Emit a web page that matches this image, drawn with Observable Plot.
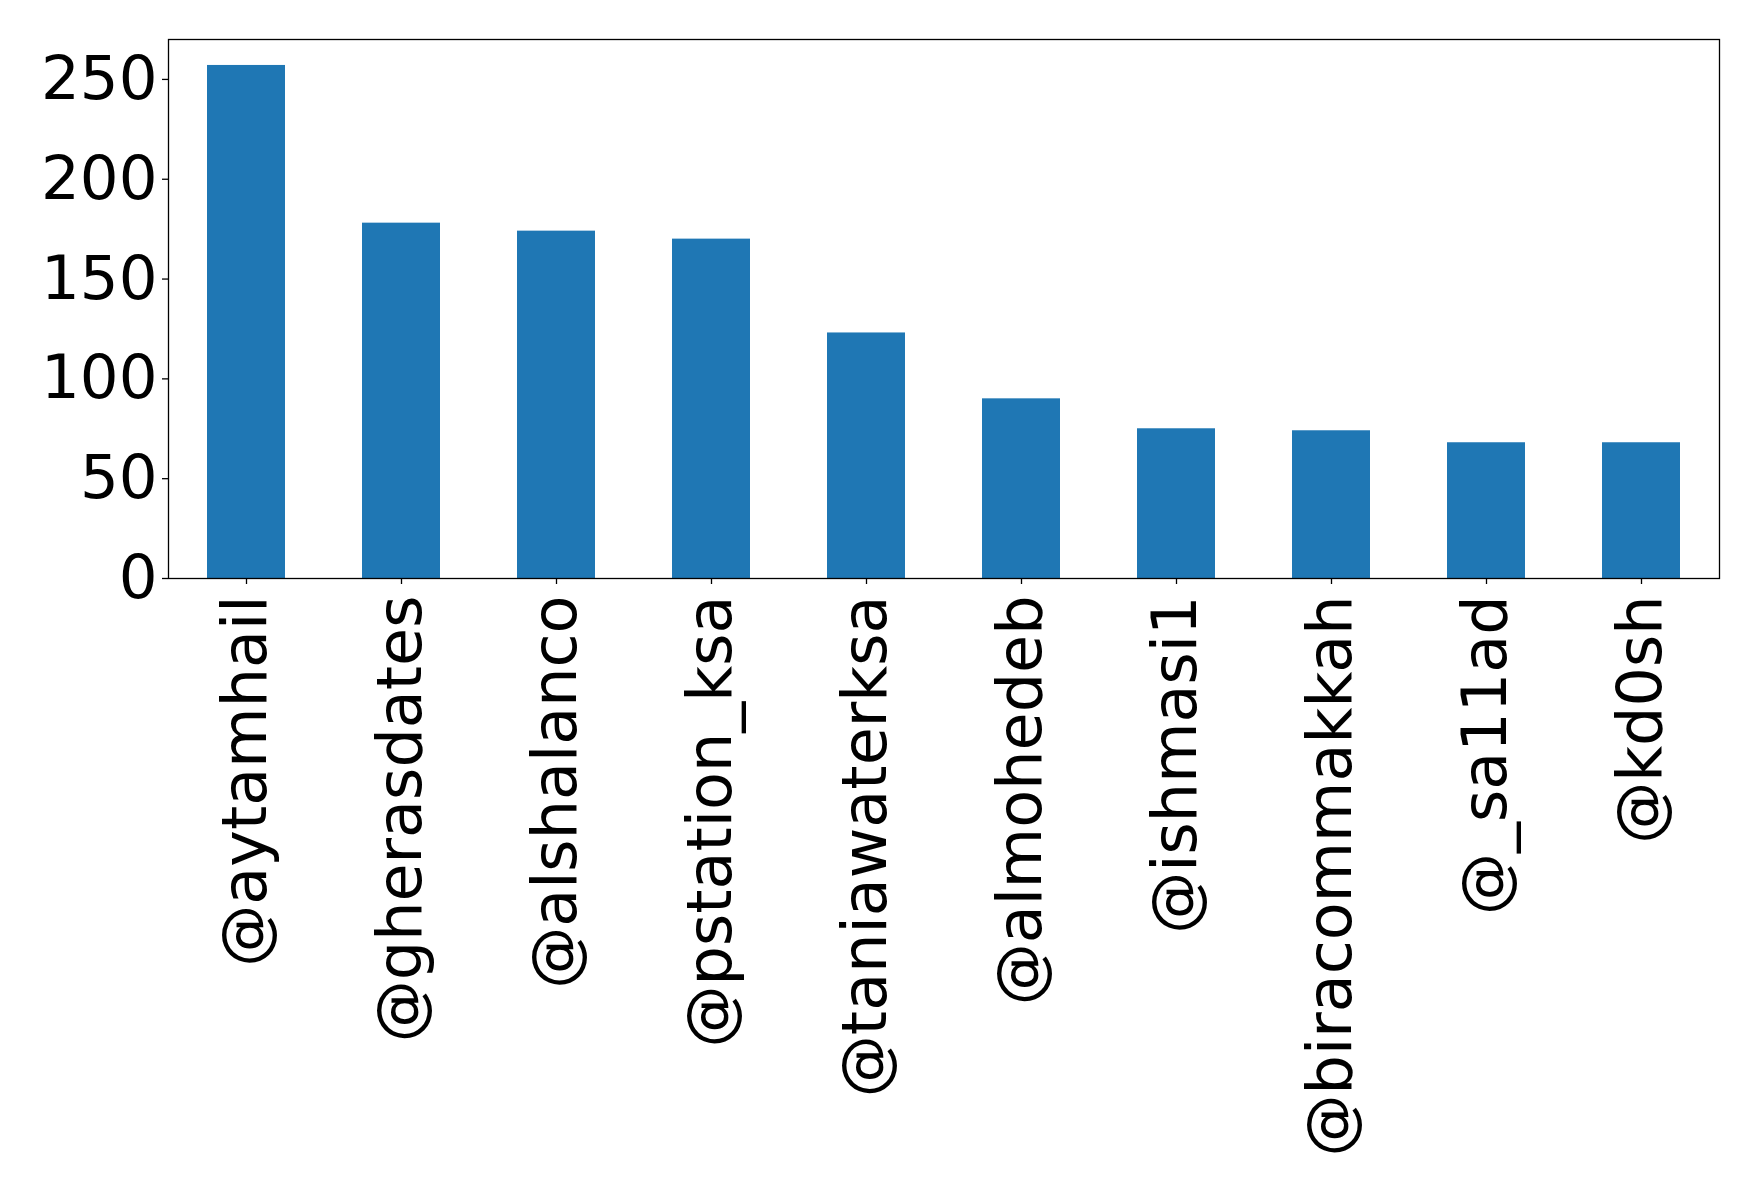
<!DOCTYPE html>
<html>
<head>
<meta charset="utf-8">
<script src="https://cdn.jsdelivr.net/npm/d3@7"></script>
<script src="https://cdn.jsdelivr.net/npm/@observablehq/plot@0.6"></script>
<style>
  html, body { margin: 0; padding: 0; background: #fff; }
  #chart svg { display: block; }
</style>
</head>
<body>
<div id="chart"></div>
<script>
const accounts = ["@aytamhail", "@gherasdates", "@alshalanco", "@pstation_ksa", "@taniawaterksa", "@almohedeb", "@ishmasi1", "@biracommakkah", "@_sa11ad", "@kd0sh"];
const counts = [257, 178, 174, 170, 123, 90, 75, 74, 68, 68];
const yTicks = [0, 50, 100, 150, 200, 250];

const data = accounts.map((a, i) => ({account: a, count: counts[i]}));

const chart = Plot.plot({
  width: 1758,
  height: 1193,
  marginLeft: 168,
  marginRight: 39,
  marginTop: 39,
  marginBottom: 615,
  style: {fontFamily: "DejaVu Sans", fontSize: "61px", color: "black", background: "white"},
  x: {domain: accounts, paddingInner: 0.5, paddingOuter: 0.25, label: null},
  y: {domain: [0, 270], label: null},
  marks: [
    Plot.barY(data, {x: "account", y: "count", fill: "#1f77b4"}),
    Plot.frame({stroke: "black", strokeWidth: 1.3}),
    Plot.axisY({ticks: yTicks, tickSize: 6, tickPadding: 5, fontSize: 61, label: null, strokeWidth: 1.3}),
    Plot.axisX({tickSize: 6, tickPadding: 11, tickRotate: -90, fontSize: 62, label: null, strokeWidth: 1.3})
  ]
});
document.getElementById("chart").appendChild(chart);
</script>
</body>
</html>
